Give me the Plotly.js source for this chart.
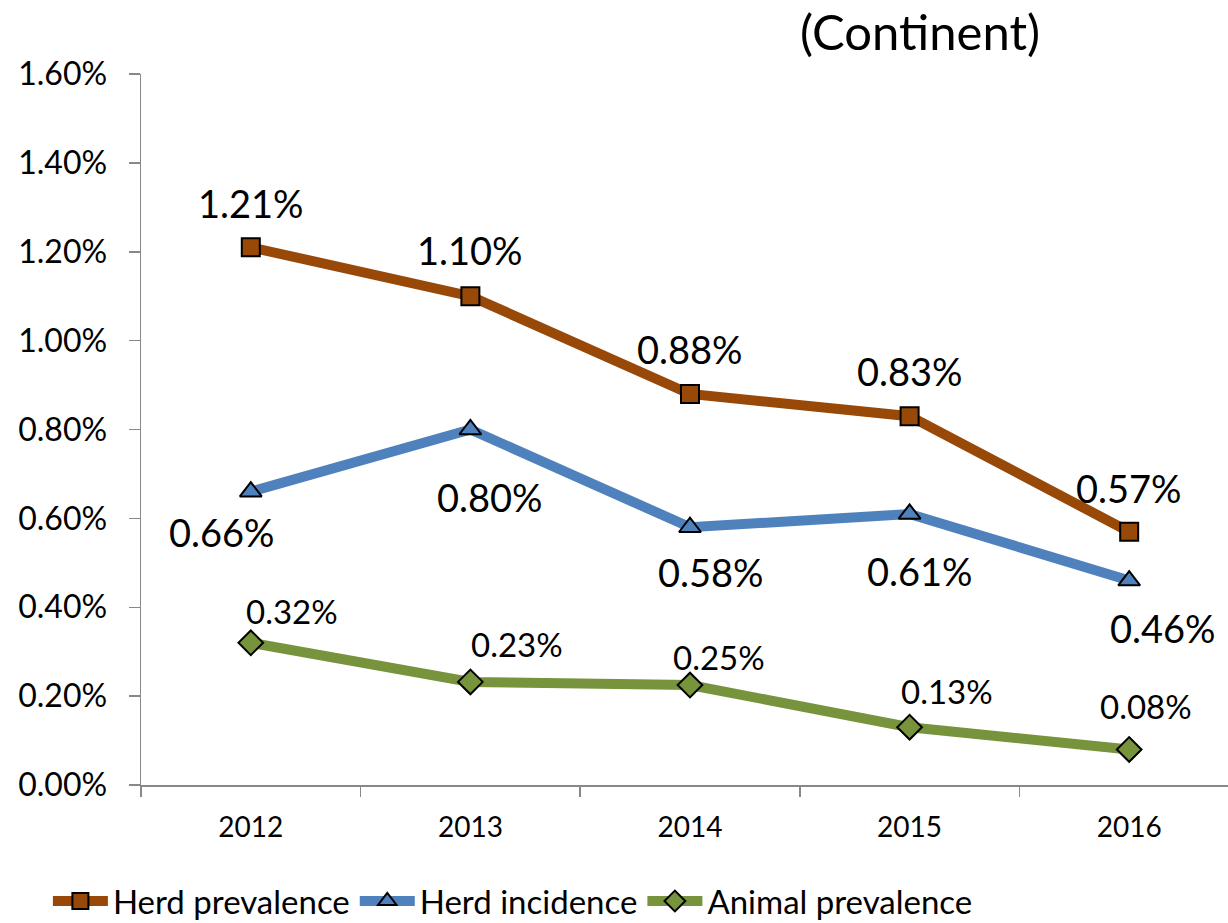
<!DOCTYPE html>
<html>
<head>
<meta charset="utf-8">
<script src="https://cdn.plot.ly/plotly-3.0.1.min.js"></script>
<style>html,body{margin:0;padding:0;background:#fff;width:1228px;height:923px;overflow:hidden;}#chart{width:1228px;height:929px;}</style>
</head>
<body>
<div id="chart"></div>
<script>
// ---- data ----
const years = ['2012', '2013', '2014', '2015', '2016'];
const herdPrevalence = [0.0121, 0.0110, 0.0088, 0.0083, 0.0057];
const herdIncidence = [0.0066, 0.0080, 0.0058, 0.0061, 0.0046];
const animalPrevalence = [0.0032, 0.00232, 0.00225, 0.0013, 0.0008];
const herdPrevalenceLabels = ['1.21%', '1.10%', '0.88%', '0.83%', '0.57%'];
const herdIncidenceLabels = ['0.66%', '0.80%', '0.58%', '0.61%', '0.46%'];
const animalPrevalenceLabels = ['0.32%', '0.23%', '0.25%', '0.13%', '0.08%'];
const seriesNames = ['Herd prevalence', 'Herd incidence', 'Animal prevalence'];
const titleText = '(Continent)';

// ---- style ----
const FONT = 'Lato, "Open Sans", sans-serif';
const colors = ['#984807', '#4F81BD', '#77933C'];
const symbols = ['square', 'triangle-up', 'diamond'];
const markerSizes = [18, 19, 19];
const labelShift = [
  {dx: [0, 0, 0, 0, 0], dy: [44, 46, 45, 45, 44], size: 38},
  {dx: [-29, 20, 21, 10, 34], dy: [-40, -67, -45, -57, -47], size: 38},
  {dx: [41, 47, 29, 37, 17], dy: [32, 38, 28, 36, 43], size: 33}
];

const values = [herdPrevalence, herdIncidence, animalPrevalence];
const labels = [herdPrevalenceLabels, herdIncidenceLabels, animalPrevalenceLabels];

const traces = values.map((v, i) => ({
  type: 'scatter',
  mode: 'lines+markers',
  x: years,
  y: v,
  name: seriesNames[i],
  line: {color: colors[i], width: 10},
  marker: {symbol: symbols[i], size: markerSizes[i], color: colors[i], line: {color: '#000', width: 2}},
  cliponaxis: false
}));

const annotations = [];
values.forEach((v, i) => {
  v.forEach((val, j) => {
    annotations.push({
      x: j, y: val, xref: 'x', yref: 'y',
      text: labels[i][j], showarrow: false,
      xshift: labelShift[i].dx[j], yshift: labelShift[i].dy[j],
      font: {family: FONT, size: labelShift[i].size, color: '#000'}
    });
  });
});
annotations.push({
  xref: 'paper', yref: 'paper', x: (920 - 141) / 1087, y: 1 + (74 - 31) / 711,
  text: titleText, showarrow: false, xanchor: 'center', yanchor: 'middle',
  font: {family: FONT, size: 49, color: '#000'}
});

const layout = {
  width: 1228, height: 929,
  margin: {l: 141, r: 0, t: 74, b: 144},
  paper_bgcolor: '#fff', plot_bgcolor: '#fff',
  font: {family: FONT, color: '#000'},
  showlegend: true,
  legend: {
    orientation: 'h', xref: 'container', yref: 'container',
    x: 0.039, xanchor: 'left', y: 0, yanchor: 'bottom',
    font: {family: FONT, size: 33, color: '#000'}, itemwidth: 55,
    bgcolor: 'rgba(0,0,0,0)', tracegroupgap: 0
  },
  xaxis: {
    type: 'category', range: [-0.5, 4.45], tickson: 'boundaries',
    showline: true, linecolor: '#888', linewidth: 1.5,
    ticks: 'outside', ticklen: 10, tickcolor: '#888', tickwidth: 1.5,
    showgrid: false, zeroline: false, ticklabelstandoff: 17,
    tickfont: {family: FONT, size: 28, color: '#000'}
  },
  yaxis: {
    range: [0, 0.016], dtick: 0.002, tickformat: '.2%',
    showline: true, linecolor: '#888', linewidth: 1.5,
    ticks: 'outside', ticklen: 11, tickcolor: '#888', tickwidth: 1.5,
    showgrid: false, zeroline: false, ticklabelstandoff: 15,
    tickfont: {family: FONT, size: 32, color: '#000'}
  },
  annotations: annotations
};

Plotly.newPlot('chart', traces, layout, {displayModeBar: false, staticPlot: true});
</script>
</body>
</html>
